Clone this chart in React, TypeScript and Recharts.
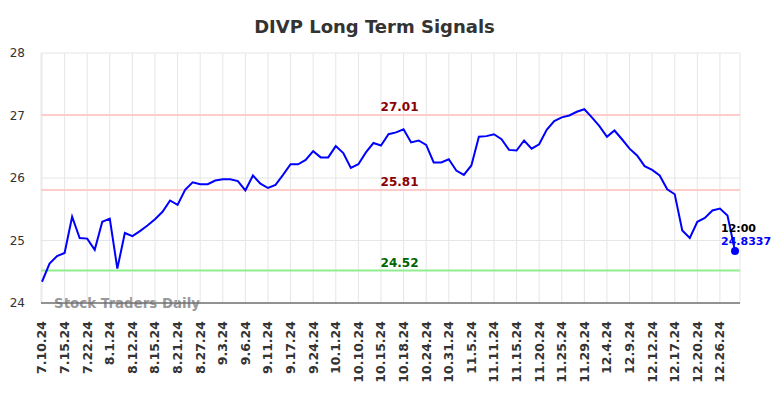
import React from 'react';
import { LineChart, Line, XAxis, YAxis, CartesianGrid, ReferenceLine } from 'recharts';

const tickLabels = ['7.10.24','7.15.24','7.22.24','8.1.24','8.12.24','8.15.24','8.21.24','8.27.24','9.3.24','9.6.24','9.11.24','9.17.24','9.24.24','10.1.24','10.10.24','10.15.24','10.18.24','10.24.24','10.31.24','11.5.24','11.11.24','11.15.24','11.20.24','11.25.24','11.29.24','12.4.24','12.9.24','12.12.24','12.17.24','12.20.24','12.26.24'];

const prices = [
  24.34, 24.63, 24.75, 24.80, 25.38, 25.04, 25.03, 24.85, 25.30, 25.35,
  24.55, 25.12, 25.07, 25.15, 25.24, 25.34, 25.46, 25.64, 25.57, 25.81,
  25.93, 25.90, 25.90, 25.96, 25.98, 25.98, 25.95, 25.80, 26.04, 25.91,
  25.84, 25.89, 26.05, 26.22, 26.22, 26.29, 26.43, 26.33, 26.33, 26.51,
  26.40, 26.16, 26.22, 26.41, 26.56, 26.52, 26.70, 26.73, 26.78, 26.57,
  26.60, 26.53, 26.25, 26.25, 26.30, 26.12, 26.05, 26.20, 26.66, 26.67,
  26.70, 26.62, 26.45, 26.44, 26.60, 26.47, 26.54, 26.77, 26.91, 26.97,
  27.00, 27.06, 27.10, 26.97, 26.83, 26.66, 26.76, 26.62, 26.47, 26.36,
  26.19, 26.13, 26.04, 25.82, 25.74, 25.16, 25.04, 25.30, 25.36, 25.48,
  25.51, 25.40, 24.8337,
];

const yTicks = [24, 25, 26, 27, 28];
const resistanceHigh = 27.01;
const resistanceMid = 25.81;
const support = 24.52;
const lastTime = '12:00';
const lastValueLabel = '24.8337';

const data = prices.map((v, i) => ({ i, v }));
const lastIndex = prices.length - 1;

const FONT = '"DejaVu Sans", sans-serif';

const XTick = (props: any) => {
  const { x, y, payload } = props;
  const idx = payload.value as number;
  const label = idx % 3 === 0 ? tickLabels[idx / 3] : '';
  return (
    <g transform={`translate(${x},${y})`}>
      <text transform="rotate(-90)" x={-10} y={0} dy="0.35em" textAnchor="end"
        fill="#333" fontSize={12.5} fontWeight="bold" fontFamily={FONT}>{label}</text>
    </g>
  );
};

const refLabel = (text: string, color: string) => (props: any) => {
  const vb = props.viewBox || {};
  return (
    <text x={vb.x + vb.width * 0.513} y={vb.y - 4} textAnchor="middle" fill={color}
      fontSize={12} fontWeight="bold" fontFamily={FONT}>{text}</text>
  );
};

const LastDot = (props: any) => {
  const { cx, cy, index } = props;
  if (index !== lastIndex) return <g key={`d${index}`} />;
  return (
    <g key={`d${index}`}>
      <circle cx={cx} cy={cy} r={4} fill="#0000ff" />
      <text x={cx - 14} y={cy - 19} fill="#000" fontSize={11} fontWeight="bold" fontFamily={FONT}>{lastTime}</text>
      <text x={cx - 14} y={cy - 6} fill="#0000ff" fontSize={11} fontWeight="bold" fontFamily={FONT}>{lastValueLabel}</text>
    </g>
  );
};

export default function App() {
  return (
    <div style={{ position: 'absolute', left: 0, top: 0, width: 784, height: 398, background: '#fff' }}>
      <svg width={784} height={398} style={{ position: 'absolute', left: 0, top: 0 }}>
        <text x={374.5} y={33} textAnchor="middle" fill="#333" fontSize={18} fontWeight="bold" fontFamily={FONT}>DIVP Long Term Signals</text>
        <text x={54} y={308} fill="#999" fontSize={13.4} fontWeight="bold" fontFamily={FONT}>Stock Traders Daily</text>
      </svg>
      <div style={{ position: 'absolute', left: 0, top: 0 }}>
        <LineChart width={784} height={398} data={data} margin={{ top: 53, right: 44, bottom: 0, left: 0 }}>
          <CartesianGrid stroke="#e6e6e6" />
          <XAxis dataKey="i" type="category" interval={2} height={95} tick={<XTick />}
            tickLine={false} padding={{ left: 1, right: 5 }} stroke="#333" />
          <YAxis domain={[24, 28]} ticks={yTicks} width={41} axisLine={false} tickLine={false}
            tickMargin={10} tick={{ fill: '#333', fontSize: 12, fontFamily: FONT }} />
          <ReferenceLine y={resistanceHigh} stroke="#ffcccc" strokeWidth={2} label={refLabel('27.01', '#8b0000')} />
          <ReferenceLine y={resistanceMid} stroke="#ffcccc" strokeWidth={2} label={refLabel('25.81', '#8b0000')} />
          <ReferenceLine y={support} stroke="#90ee90" strokeWidth={2} label={refLabel('24.52', '#006400')} />
          <Line dataKey="v" stroke="#0000ff" strokeWidth={2} isAnimationActive={false} dot={LastDot} activeDot={false} />
        </LineChart>
      </div>
    </div>
  );
}
